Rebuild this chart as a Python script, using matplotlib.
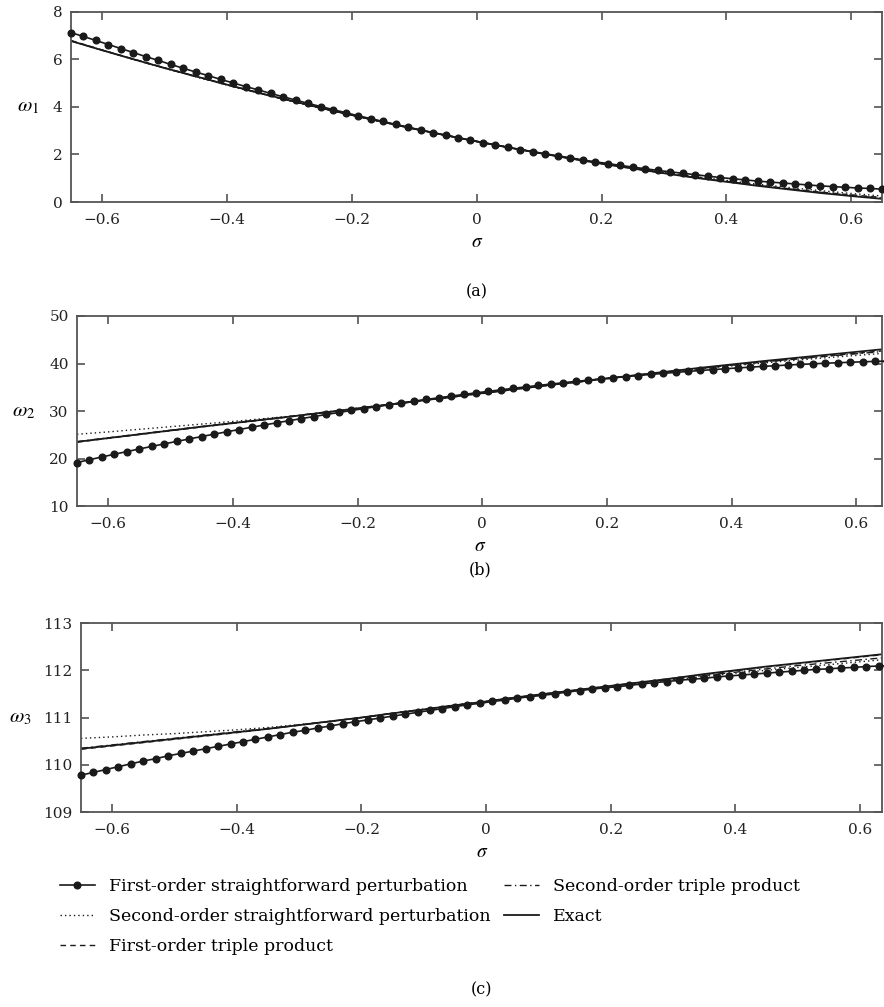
import matplotlib
matplotlib.use('Agg')
import matplotlib.pyplot as plt

plt.rcParams['font.family'] = ['DejaVu Serif']
plt.rcParams['mathtext.fontset'] = 'stix'

# sigma grids
sig_mk = [-0.65, -0.63, -0.61, -0.59, -0.57, -0.55, -0.53, -0.51, -0.49, -0.47,
          -0.45, -0.43, -0.41, -0.39, -0.37, -0.35, -0.33, -0.31, -0.29, -0.27,
          -0.25, -0.23, -0.21, -0.19, -0.17, -0.15, -0.13, -0.11, -0.09, -0.07,
          -0.05, -0.03, -0.01, 0.01, 0.03, 0.05, 0.07, 0.09, 0.11, 0.13,
          0.15, 0.17, 0.19, 0.21, 0.23, 0.25, 0.27, 0.29, 0.31, 0.33,
          0.35, 0.37, 0.39, 0.41, 0.43, 0.45, 0.47, 0.49, 0.51, 0.53,
          0.55, 0.57, 0.59, 0.61, 0.63, 0.65]
sig = [-0.65, -0.60, -0.55, -0.50, -0.45, -0.40, -0.35, -0.30, -0.25, -0.20,
       -0.15, -0.10, -0.05, 0.0, 0.05, 0.10, 0.15, 0.20, 0.25, 0.30,
       0.35, 0.40, 0.45, 0.50, 0.55, 0.60, 0.65]

# ---- omega 1 ----
w1_fo_sp = [7.13, 6.97, 6.80, 6.63, 6.46, 6.29, 6.12, 5.96, 5.79, 5.63,
            5.47, 5.32, 5.16, 5.01, 4.86, 4.72, 4.57, 4.43, 4.29, 4.15,
            4.02, 3.89, 3.76, 3.63, 3.51, 3.39, 3.27, 3.15, 3.03, 2.92,
            2.81, 2.71, 2.60, 2.50, 2.40, 2.30, 2.21, 2.12, 2.03, 1.94,
            1.86, 1.77, 1.69, 1.62, 1.54, 1.47, 1.40, 1.33, 1.27, 1.21,
            1.15, 1.09, 1.03, 0.98, 0.93, 0.88, 0.84, 0.80, 0.76, 0.72,
            0.68, 0.65, 0.62, 0.59, 0.57, 0.54]
w1_so_sp = [6.78, 6.39, 6.00, 5.63, 5.27, 4.92, 4.59, 4.26, 3.95, 3.65,
            3.35, 3.08, 2.81, 2.55, 2.31, 2.07, 1.85, 1.64, 1.44, 1.25,
            1.07, 0.91, 0.75, 0.61, 0.48, 0.36, 0.25]
w1_fo_tp = [6.80, 6.40, 6.02, 5.65, 5.29, 4.94, 4.60, 4.27, 3.96, 3.66,
            3.36, 3.08, 2.81, 2.55, 2.30, 2.06, 1.84, 1.62, 1.42, 1.22,
            1.04, 0.87, 0.71, 0.56, 0.42, 0.30, 0.19]
w1_so_tp = [6.78, 6.39, 6.01, 5.64, 5.28, 4.93, 4.60, 4.27, 3.96, 3.66,
            3.36, 3.08, 2.81, 2.55, 2.30, 2.06, 1.83, 1.62, 1.41, 1.22,
            1.03, 0.86, 0.70, 0.55, 0.41, 0.28, 0.16]
w1_exact = [6.78, 6.39, 6.01, 5.64, 5.29, 4.94, 4.60, 4.28, 3.96, 3.66,
            3.37, 3.08, 2.81, 2.55, 2.30, 2.06, 1.83, 1.61, 1.41, 1.21,
            1.02, 0.85, 0.68, 0.53, 0.38, 0.25, 0.13]

# ---- omega 2 ----
w2_fo_sp = [19.15, 19.75, 20.33, 20.90, 21.46, 22.01, 22.55, 23.08, 23.60, 24.12,
            24.63, 25.13, 25.62, 26.10, 26.58, 27.05, 27.51, 27.96, 28.40, 28.84,
            29.27, 29.69, 30.11, 30.51, 30.91, 31.30, 31.68, 32.06, 32.43, 32.78,
            33.14, 33.48, 33.82, 34.14, 34.46, 34.78, 35.08, 35.38, 35.67, 35.95,
            36.22, 36.49, 36.74, 36.99, 37.24, 37.47, 37.70, 37.92, 38.13, 38.33,
            38.53, 38.71, 38.89, 39.07, 39.23, 39.39, 39.53, 39.68, 39.81, 39.93,
            40.05, 40.16, 40.26, 40.36, 40.44, 40.52]
w2_so_sp = [25.10, 25.60, 26.15, 26.70, 27.25, 27.80, 28.40, 29.00, 29.75, 30.55,
            31.35, 32.15, 32.95, 33.75, 34.55, 35.30, 36.05, 36.80, 37.50, 38.20,
            38.90, 39.50, 40.10, 40.65, 41.20, 41.70, 42.20]
w2_fo_tp = [23.45, 24.25, 25.05, 25.85, 26.65, 27.40, 28.15, 28.90, 29.70, 30.50,
            31.30, 32.10, 32.90, 33.70, 34.50, 35.30, 36.05, 36.80, 37.55, 38.25,
            38.95, 39.65, 40.30, 40.95, 41.55, 42.15, 42.75]
w2_so_tp = [23.55, 24.35, 25.15, 25.95, 26.75, 27.50, 28.25, 29.00, 29.80, 30.60,
            31.40, 32.20, 33.00, 33.80, 34.60, 35.40, 36.15, 36.90, 37.60, 38.30,
            39.00, 39.65, 40.30, 40.90, 41.50, 42.05, 42.60]
w2_exact = [23.50, 24.30, 25.10, 25.90, 26.70, 27.45, 28.20, 28.95, 29.75, 30.55,
            31.35, 32.15, 32.95, 33.75, 34.55, 35.35, 36.10, 36.85, 37.60, 38.35,
            39.10, 39.80, 40.50, 41.15, 41.80, 42.45, 43.10]

# ---- omega 3 ----
w3_fo_sp = [109.78, 109.84, 109.90, 109.96, 110.02, 110.08, 110.13, 110.19, 110.24, 110.29,
            110.34, 110.39, 110.44, 110.49, 110.54, 110.59, 110.64, 110.69, 110.73, 110.78,
            110.82, 110.87, 110.91, 110.95, 110.99, 111.03, 111.07, 111.11, 111.15, 111.19,
            111.23, 111.27, 111.30, 111.34, 111.37, 111.41, 111.44, 111.47, 111.50, 111.54,
            111.57, 111.60, 111.63, 111.65, 111.68, 111.71, 111.74, 111.76, 111.79, 111.81,
            111.83, 111.86, 111.88, 111.90, 111.92, 111.94, 111.96, 111.98, 112.00, 112.02,
            112.03, 112.05, 112.06, 112.08, 112.09, 112.10]
w3_so_sp = [110.56, 110.59, 110.63, 110.66, 110.70, 110.74, 110.79, 110.85, 110.92, 111.00,
            111.09, 111.18, 111.26, 111.34, 111.43, 111.51, 111.59, 111.66, 111.73, 111.80,
            111.87, 111.94, 112.00, 112.06, 112.12, 112.18, 112.24]
w3_fo_tp = [110.33, 110.40, 110.47, 110.54, 110.61, 110.68, 110.76, 110.84, 110.92, 111.00,
            111.09, 111.17, 111.26, 111.34, 111.43, 111.51, 111.59, 111.67, 111.75, 111.83,
            111.91, 111.99, 112.07, 112.14, 112.21, 112.28, 112.35]
w3_so_tp = [110.35, 110.42, 110.49, 110.56, 110.63, 110.70, 110.77, 110.84, 110.92, 111.00,
            111.09, 111.17, 111.26, 111.34, 111.42, 111.50, 111.58, 111.66, 111.74, 111.81,
            111.89, 111.96, 112.03, 112.10, 112.16, 112.22, 112.28]
w3_exact = [110.34, 110.41, 110.48, 110.55, 110.62, 110.69, 110.76, 110.84, 110.92, 111.00,
            111.09, 111.17, 111.26, 111.34, 111.43, 111.51, 111.59, 111.67, 111.75, 111.83,
            111.92, 112.00, 112.08, 112.15, 112.22, 112.29, 112.36]

x_ticks = [-0.6, -0.4, -0.2, 0, 0.2, 0.4, 0.6]
x_tick_labels = ['\u22120.6', '\u22120.4', '\u22120.2', '0', '0.2', '0.4', '0.6']

legend_labels = ['First-order straightforward perturbation',
                 'Second-order straightforward perturbation',
                 'First-order triple product',
                 'Second-order triple product',
                 'Exact']

panels = [
    dict(rect=[0.0803, 0.7994, 0.9180, 0.1887], xlim=(-0.65, 0.65), ylim=(0, 8),
         yticks=[0, 2, 4, 6, 8], ylab=r'$\omega_1$', ylx=-0.053, cap='(a)', capy=292,
         data=(w1_fo_sp, w1_so_sp, w1_fo_tp, w1_so_tp, w1_exact)),
    dict(rect=[0.0871, 0.4975, 0.9112, 0.1887], xlim=(-0.65, 0.642), ylim=(10, 50),
         yticks=[10, 20, 30, 40, 50], ylab=r'$\omega_2$', ylx=-0.066, cap='(b)', capy=570,
         data=(w2_fo_sp, w2_so_sp, w2_fo_tp, w2_so_tp, w2_exact)),
    dict(rect=[0.0916, 0.1936, 0.9067, 0.1877], xlim=(-0.65, 0.636), ylim=(109, 113),
         yticks=[109, 110, 111, 112, 113], ylab=r'$\omega_3$', ylx=-0.076, cap='(c)', capy=990,
         data=(w3_fo_sp, w3_so_sp, w3_fo_tp, w3_so_tp, w3_exact)),
]

ink = '#1a1a1a'
fig = plt.figure(figsize=(8.84, 10.07), dpi=100)

handles = None
for p in panels:
    ax = fig.add_axes(p['rect'])
    fo_sp, so_sp, fo_tp, so_tp, ex = p['data']
    h1, = ax.plot(sig_mk, fo_sp, '-o', color=ink, lw=1.2, markersize=4.8, clip_on=False, zorder=5)
    h2, = ax.plot(sig, so_sp, color=ink, lw=1.0, linestyle=(0, (1, 2.2)))
    h3, = ax.plot(sig, fo_tp, color=ink, lw=1.0, linestyle=(0, (4, 3)))
    h4, = ax.plot(sig, so_tp, color=ink, lw=1.0, linestyle=(0, (5, 2.5, 1, 2.5)))
    h5, = ax.plot(sig, ex, color=ink, lw=1.3)
    handles = [h1, h2, h3, h4, h5]

    ax.set_xlim(*p['xlim'])
    ax.set_ylim(*p['ylim'])
    ax.set_xticks(x_ticks)
    ax.set_xticklabels(x_tick_labels)
    ax.set_yticks(p['yticks'])
    ax.tick_params(direction='in', top=True, right=True, length=6, width=1.1,
                   color='#444444', labelsize=11, labelcolor='#222222')
    ax.tick_params(axis='x', pad=8)
    ax.tick_params(axis='y', pad=6)
    for s in ax.spines.values():
        s.set_color('#555555')
        s.set_linewidth(1.3)
    ax.set_xlabel(r'$\sigma$', fontsize=14, labelpad=4)
    ax.set_ylabel(p['ylab'], fontsize=15, rotation=0, va='center', ha='center')
    ax.yaxis.set_label_coords(p['ylx'], 0.5)
    cx = p['rect'][0] + p['rect'][2] / 2
    fig.text(cx, 1 - p['capy'] / 1007, p['cap'], ha='center', va='center', fontsize=11.5)

fig.legend(handles, legend_labels, ncol=2, loc='upper left',
           bbox_to_anchor=(0.068, 1 - 878 / 1007), frameon=False, fontsize=12.5,
           handlelength=2.0, handletextpad=0.8, labelspacing=0.76, columnspacing=0.8,
           borderaxespad=0, borderpad=0)

fig.savefig('out.png', dpi=100)
